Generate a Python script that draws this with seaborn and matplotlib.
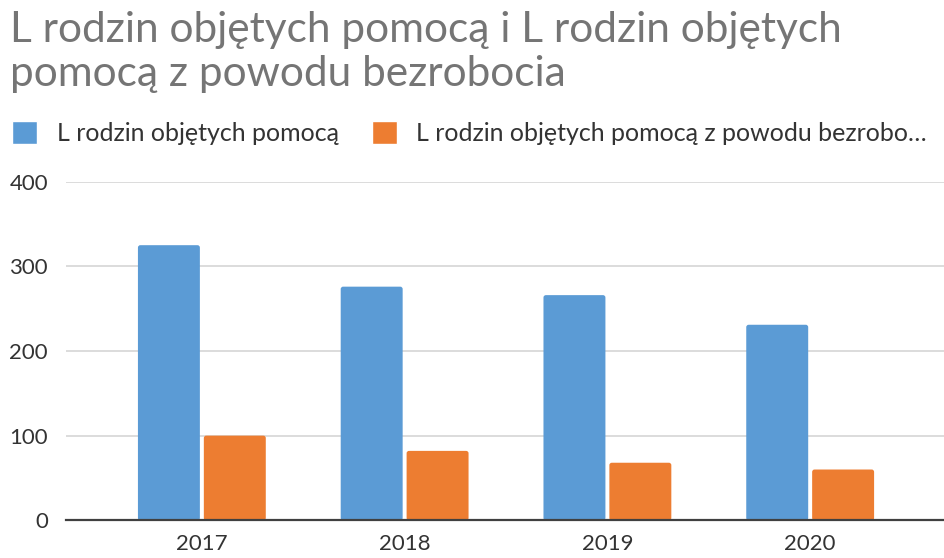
import seaborn as sns
import matplotlib.pyplot as plt
import pandas as pd
from matplotlib.patches import FancyBboxPatch

lata = ['2017', '2018', '2019', '2020']
rodziny_pomoc = [325, 276, 266, 231]
rodziny_bezrobocie = [100, 82, 68, 60]
serie = ['L rodzin objętych pomocą', 'L rodzin objętych pomocą z powodu bezrobo…']

df = pd.DataFrame({
    'Rok': lata * 2,
    'Wartość': rodziny_pomoc + rodziny_bezrobocie,
    'Seria': [serie[0]] * len(lata) + [serie[1]] * len(lata),
})

sns.set_theme(style="white")
plt.rcParams['font.family'] = ['Lato', 'DejaVu Sans']

fig = plt.figure(figsize=(9.44, 5.58), dpi=100)
ax = fig.add_axes([66 / 944, 37.7 / 558, 1 - 66 / 944, 338.6 / 558])

sns.barplot(data=df, x='Rok', y='Wartość', hue='Seria', palette=['#5B9BD5', '#ED7D31'],
            saturation=1, width=0.65, gap=0.06, ax=ax, legend=True)

ax.set_ylim(0, 400)
ax.set_xlim(-0.67, 3.66)

# zaokraglone rogi slupkow jak w Excelu
aspect = (338.6 / 400) ** -1 / (878 / 4.33) ** -1
for p in list(ax.patches):
    x, y, w, h = p.get_x(), p.get_y(), p.get_width(), p.get_height()
    if h <= 0:
        continue
    r = FancyBboxPatch((x, y), w, h, boxstyle="round,pad=0,rounding_size=0.012",
                       mutation_aspect=aspect, facecolor=p.get_facecolor(), edgecolor='none',
                       zorder=p.get_zorder())
    p.set_visible(False)
    ax.add_patch(r)

ax.set_yticks([0, 100, 200, 300, 400])
ax.set_xlabel('')
ax.set_ylabel('')
ax.yaxis.grid(True, color='#d9d9d9', linewidth=1.3)
ax.set_axisbelow(True)
for s in ['top', 'right', 'left']:
    ax.spines[s].set_visible(False)
ax.spines['bottom'].set_color('#404040')
ax.spines['bottom'].set_linewidth(1.6)
ax.spines['bottom'].set_zorder(5)
ax.tick_params(axis='both', length=0, labelsize=16, colors='#333333')
ax.tick_params(axis='y', pad=13)
ax.tick_params(axis='x', pad=10)

handles, labels = ax.get_legend_handles_labels()
ax.get_legend().remove()
fig.legend(handles, labels, loc='center left', bbox_to_anchor=(12 / 944, 1 - 133 / 558), ncol=2,
           frameon=False, fontsize=18, handlelength=1.0, handleheight=1.0, handletextpad=0.8,
           columnspacing=1.3, borderaxespad=0, borderpad=0, labelcolor='#333333')

fig.text(10 / 944, 1 - 11 / 558, 'L rodzin objętych pomocą i L rodzin objętych\npomocą z powodu bezrobocia',
         fontsize=30.5, color='#757575', ha='left', va='top', linespacing=1.2)

fig.savefig('out.png', dpi=100)
